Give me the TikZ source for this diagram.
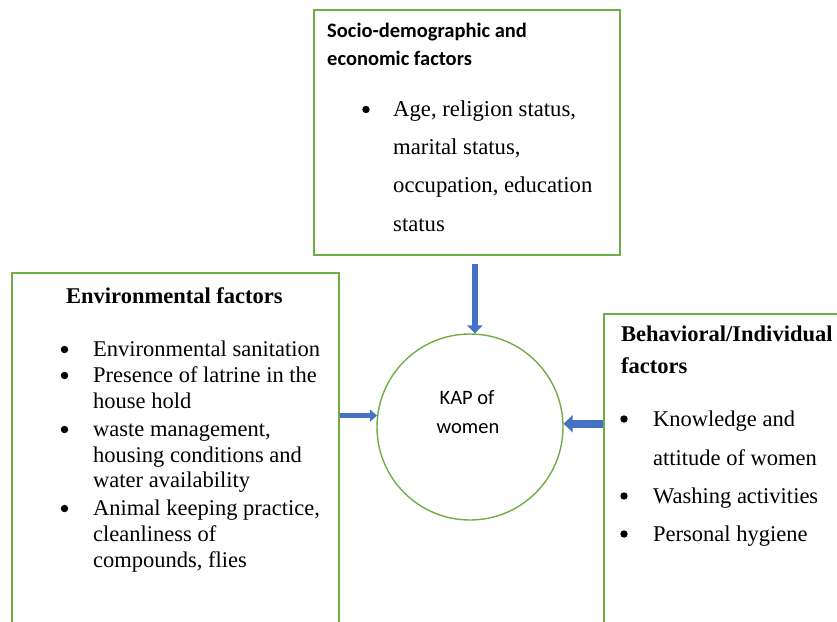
\documentclass[tikz,border=0pt]{standalone}
\usepackage{fontspec}
\setmainfont{Liberation Serif}
\newfontfamily\carlito{Carlito}
\usetikzlibrary{arrows.meta,calc}
\definecolor{boxgreen}{HTML}{70AD47}
\definecolor{arrowblue}{HTML}{4472C4}
\begin{document}
\begin{tikzpicture}[x=1pt,y=-1pt,
  frame/.style={draw=boxgreen,line width=1.4pt,fill=white,inner sep=0pt},
  line/.style={anchor=base west,inner sep=0pt,font=\fontsize{22.5}{26}\selectfont},
  head/.style={line,font=\fontsize{22.5}{26}\selectfont\bfseries},
  sanshead/.style={line,font=\fontsize{20.5}{26}\selectfont\carlito\bfseries},
  dot/.style={circle,fill=black,inner sep=0pt,minimum size=7.4pt},
  flow/.style={draw=arrowblue,color=arrowblue}]
\useasboundingbox (0,0) rectangle (837,621);
\clip (0,0) rectangle (837,621);

% frames
\node[frame,minimum width=306pt,minimum height=245pt] (socio) at (467,132.5) {};
\node[frame,minimum width=327pt,minimum height=400pt] (env) at (175.5,473) {};
\node[frame,minimum width=260pt,minimum height=340pt] (beh) at (734,484) {};
\node[draw=boxgreen,line width=1.4pt,circle,minimum size=186pt,inner sep=0pt] (kap) at (470,427) {};

% socio-demographic box
\node[sanshead] (s0) at (327,37) {Socio-demographic and};
\node[sanshead] (s1) at (327,65) {economic factors};
\node[dot] (sb) at (366,109.5) {};
\node[line,font=\fontsize{22.7}{26}\selectfont] (s2) at (393,116.5) {Age, religion status,};
\node[line,font=\fontsize{22.7}{26}\selectfont] (s3) at (393,154.5) {marital status,};
\node[line,font=\fontsize{22.7}{26}\selectfont] (s4) at (393,192.5) {occupation, education};
\node[line,font=\fontsize{22.7}{26}\selectfont] (s5) at (393,231) {status};

% environmental box
\node[head] (e0) at (66,303) {Environmental factors};
\node[dot] (eb1) at (64.5,349.5) {};
\node[line] (e1) at (93,356.5) {Environmental sanitation};
\node[dot] (eb2) at (64.5,375.5) {};
\node[line] (e2) at (93,382.5) {Presence of latrine in the};
\node[line] (e3) at (93,408) {house hold};
\node[dot] (eb3) at (64.5,429.5) {};
\node[line] (e4) at (93,436) {waste management,};
\node[line] (e5) at (93,462) {housing conditions and};
\node[line] (e6) at (93,487.5) {water availability};
\node[dot] (eb4) at (64.5,508.5) {};
\node[line] (e7) at (93,515) {Animal keeping practice,};
\node[line] (e8) at (93,541) {cleanliness of};
\node[line] (e9) at (93,567) {compounds, flies};

% behavioural box
\node[head] (b0) at (621,341) {Behavioral/Individual};
\node[head] (b1) at (621,373) {factors};
\node[dot] (bb1) at (624,419) {};
\node[line] (b2) at (653,426) {Knowledge and};
\node[line] (b3) at (653,465) {attitude of women};
\node[dot] (bb2) at (624,496) {};
\node[line] (b4) at (653,503) {Washing activities};
\node[dot] (bb3) at (624,534) {};
\node[line] (b5) at (653,541) {Personal hygiene};

% centre label
\node[anchor=base,inner sep=0pt,font=\fontsize{20.5}{26}\selectfont\carlito] (k1) at (467,404) {KAP of};
\node[anchor=base,inner sep=0pt,font=\fontsize{20.5}{26}\selectfont\carlito] (k2) at (468,433) {women};

% influences
\draw[flow,line width=6pt,-{Triangle[width=15pt,length=8pt]}]
  ($(socio.south -| kap.87)+(0,8)$) -- (kap.87);
\draw[flow,line width=5pt,-{Triangle[width=12pt,length=7pt]}]
  (env.east |- kap.173) -- (kap.173);
\draw[flow,line width=8pt,-{Triangle[width=17pt,length=9pt]}]
  (beh.west |- kap.2) -- (kap.2);
\end{tikzpicture}
\end{document}
